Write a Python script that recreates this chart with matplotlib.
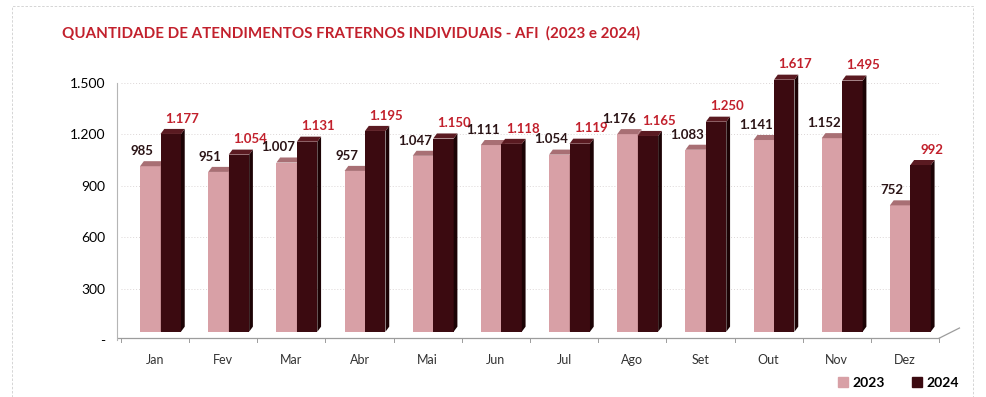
import matplotlib.pyplot as plt
from matplotlib.patches import Polygon, Patch, Rectangle

# Atendimentos fraternos individuais por mês
meses = ['Jan', 'Fev', 'Mar', 'Abr', 'Mai', 'Jun', 'Jul', 'Ago', 'Set', 'Out', 'Nov', 'Dez']
atend_2023 = [985, 951, 1007, 957, 1047, 1111, 1054, 1176, 1083, 1141, 1152, 752]
atend_2024 = [1177, 1054, 1131, 1195, 1150, 1118, 1119, 1165, 1250, 1617, 1495, 992]
ticks_y = [0, 300, 600, 900, 1200, 1500]
rotulos_y = ['-', '300', '600', '900', '1.200', '1.500']
Y_MAX = 1500

plt.rcParams['font.family'] = ['Lato', 'DejaVu Sans']

ROSA = '#d8a0a6'
ROSA_TOPO = '#a86f74'
VINHO = '#3b0a10'
VINHO_LADO = '#1c0305'
VINHO_TOPO = '#5a1a21'
VERMELHO = '#c2202c'


def fmt(v):
    return f'{v:,}'.replace(',', '.')


W, H = 986, 397
fig = plt.figure(figsize=(W / 100, H / 100), dpi=100)

# parede do fundo: grade, eixo y e meses
esq, larg = 121 / W, 818 / W
ax = fig.add_axes([esq, (H - 340) / H, larg, 257 / H])
ax.set_xlim(-0.5, 11.5)
ax.set_ylim(0, Y_MAX)
for t in ticks_y[1:]:
    ax.axhline(t, color='#dcd6d6', lw=0.7, ls=(0, (1, 2)), zorder=1)
ax.set_yticks(ticks_y)
ax.set_yticklabels(rotulos_y, fontsize=9.5, fontweight='bold', color='#1f2b4d')
ax.set_xticks(range(len(meses)))
ax.set_xticklabels(meses, fontsize=9, color='#333333')
ax.tick_params(axis='both', length=0)
ax.tick_params(axis='x', pad=10)
ax.tick_params(axis='y', pad=8)
for s in ['top', 'right', 'bottom']:
    ax.spines[s].set_visible(False)
ax.spines['left'].set_color('#b5b5b5')
ax.spines['left'].set_linewidth(0.8)
ax.spines['left'].set_position(('outward', 3))
ax.set_facecolor('none')

# piso em perspectiva
ax.plot([-0.55, 11.5], [10, 10], color='#9c9c9c', lw=0.9, zorder=2, clip_on=False)
ax.plot([11.5, 11.8], [10, 70], color='#9c9c9c', lw=0.9, zorder=2, clip_on=False)
for i in range(len(meses) + 1):
    ax.plot([i - 0.5, i - 0.5], [10, -10], color='#9c9c9c', lw=0.7, clip_on=False)

# plano frontal das barras
axb = fig.add_axes([esq, (H - 331.7) / H, larg, 252 / H])
axb.set_xlim(-0.5, 11.5)
axb.set_ylim(0, Y_MAX)
axb.axis('off')

w = 0.3
dx = 0.055   # profundidade em x (unidades de categoria)
dy = 30      # profundidade em y (unidades de valor)


def barra3d(x, h, frente, lado, topo, z):
    axb.bar(x, h, width=w, color=frente, zorder=z, linewidth=0)
    axb.add_patch(Polygon([(x + w/2, 0), (x + w/2 + dx, dy), (x + w/2 + dx, h + dy), (x + w/2, h)],
                          closed=True, color=lado, zorder=z, linewidth=0, clip_on=False))
    axb.add_patch(Polygon([(x - w/2, h), (x - w/2 + dx, h + dy), (x + w/2 + dx, h + dy), (x + w/2, h)],
                          closed=True, color=topo, zorder=z, linewidth=0, clip_on=False))


for i, (a, b) in enumerate(zip(atend_2023, atend_2024)):
    xa = i + 0.08 - w/2
    xb = i + 0.08 + w/2
    # o eixo corta as barras no máximo da escala
    ha_ = min(a, Y_MAX)
    hb_ = min(b, Y_MAX)
    barra3d(xa, ha_, ROSA, ROSA_TOPO, ROSA_TOPO, 3)
    barra3d(xb, hb_, VINHO, VINHO_LADO, VINHO_TOPO, 4)
    axb.text(xa - 0.12, ha_ + dy + 25, fmt(a), ha='center', va='bottom',
             fontsize=9.5, fontweight='bold', color='#2b1416', zorder=6, clip_on=False)
    axb.text(xb + 0.16, hb_ + dy + 25, fmt(b), ha='center', va='bottom',
             fontsize=9.5, fontweight='bold', color=VERMELHO, zorder=6, clip_on=False)

fig.text(62 / W, 1 - 33 / H, 'QUANTIDADE DE ATENDIMENTOS FRATERNOS INDIVIDUAIS - AFI  (2023 e 2024)',
         fontsize=10.9, fontweight='bold', color=VERMELHO, va='center', ha='left')

fig.legend(handles=[Patch(color=ROSA, label='2023'), Patch(color=VINHO, label='2024')],
           loc='center right', bbox_to_anchor=(0.985, 1 - 383 / H), ncol=2, frameon=False,
           handlelength=0.7, handleheight=0.7, handletextpad=0.3, columnspacing=2.0,
           prop={'size': 10, 'weight': 'bold'})

fig.patches.append(Rectangle((12 / W, -0.01), 0.975, 0.995, transform=fig.transFigure,
                             fill=False, ec='#cfcfcf', lw=0.6, ls=(0, (3, 2))))

fig.savefig('out.png', dpi=100)
